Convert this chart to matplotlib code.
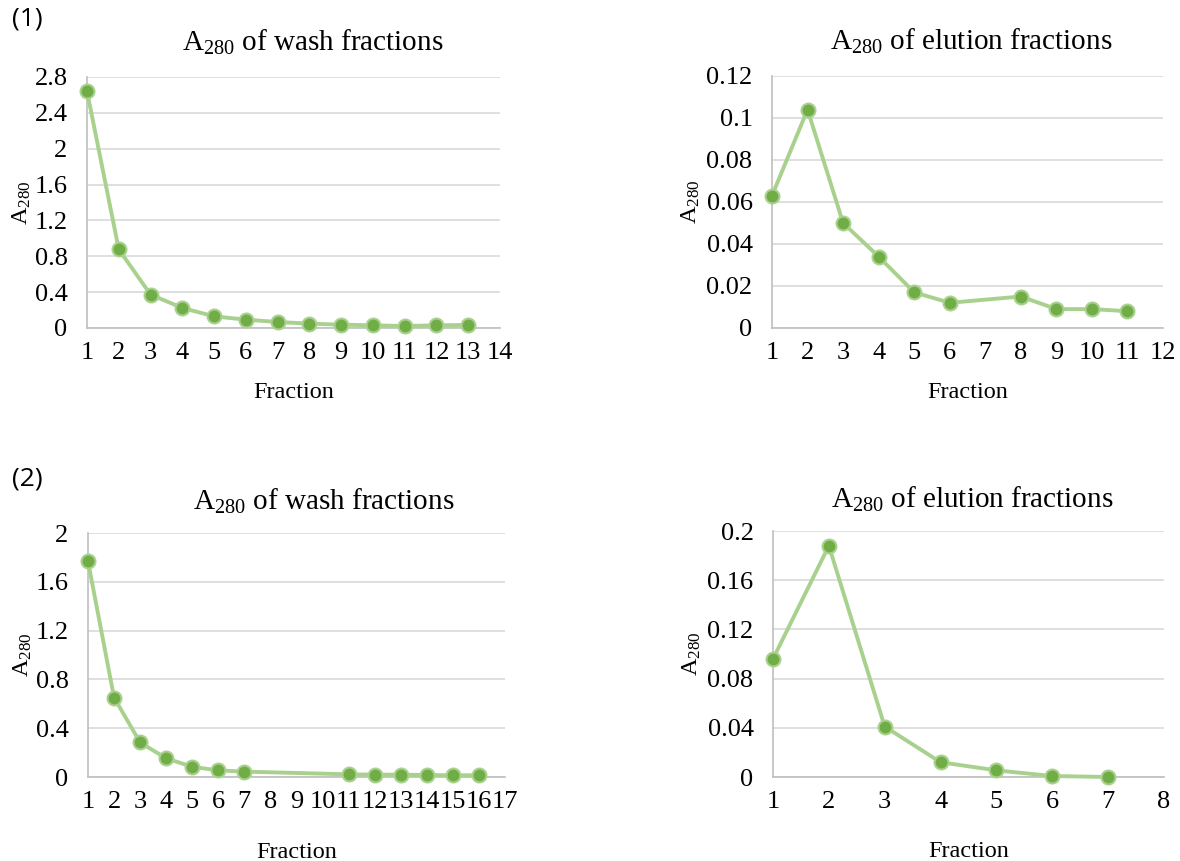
import matplotlib
matplotlib.use("Agg")
import matplotlib.pyplot as plt

plt.rcParams['font.family'] = ['Liberation Serif']
plt.rcParams['mathtext.fontset'] = 'custom'
plt.rcParams['mathtext.rm'] = 'Liberation Serif'
plt.rcParams['mathtext.it'] = 'Liberation Serif:italic'

# Data
wash1_x = [1, 2, 3, 4, 5, 6, 7, 8, 9, 10, 11, 12, 13]
wash1_y = [2.64, 0.877, 0.373, 0.224, 0.13, 0.093, 0.067, 0.049, 0.037, 0.03, 0.022, 0.03, 0.034]
elu1_x = [1, 2, 3, 4, 5, 6, 8, 9, 10, 11]
elu1_y = [0.063, 0.104, 0.050, 0.034, 0.017, 0.012, 0.015, 0.009, 0.009, 0.008]
wash2_x = [1, 2, 3, 4, 5, 6, 7, 11, 12, 13, 14, 15, 16]
wash2_y = [1.768, 0.651, 0.283, 0.153, 0.084, 0.054, 0.044, 0.022, 0.019, 0.019, 0.016, 0.014, 0.014]
elu2_x = [1, 2, 3, 4, 5, 6, 7]
elu2_y = [0.096, 0.188, 0.041, 0.012, 0.0054, 0.0008, 0.0]

yticks1 = [0, 0.4, 0.8, 1.2, 1.6, 2, 2.4, 2.8]
ytl1 = ['0', '0.4', '0.8', '1.2', '1.6', '2', '2.4', '2.8']
yticks2 = [0, 0.02, 0.04, 0.06, 0.08, 0.1, 0.12]
ytl2 = ['0', '0.02', '0.04', '0.06', '0.08', '0.1', '0.12']
yticks3 = [0, 0.4, 0.8, 1.2, 1.6, 2]
ytl3 = ['0', '0.4', '0.8', '1.2', '1.6', '2']
yticks4 = [0, 0.04, 0.08, 0.12, 0.16, 0.2]
ytl4 = ['0', '0.04', '0.08', '0.12', '0.16', '0.2']

W, H = 1180, 861
fig = plt.figure(figsize=(W / 100, H / 100), dpi=100)

LINE = '#A9D18E'
MARK = '#70AD47'
GRID = '#D9D9D9'
AXC = '#BFBFBF'


def make_ax(px_left, px_right, px_top, px_bottom):
    return fig.add_axes([px_left / W, 1 - px_bottom / H,
                         (px_right - px_left) / W, (px_bottom - px_top) / H])


def panel(ax, x, y, xmax, yt, ytl, title, tpad, tx, xlpad, ylpad):
    ax.plot(x, y, color=LINE, lw=2.8, marker='o', ms=10,
            markerfacecolor=MARK, markeredgecolor=LINE, markeredgewidth=1.5,
            zorder=3, clip_on=False)
    ax.set_xlim(1, xmax)
    ax.set_ylim(yt[0], yt[-1])
    ax.set_xticks(range(1, xmax + 1))
    ax.set_yticks(yt)
    ax.set_yticklabels(ytl)
    ax.tick_params(length=0, labelsize=19, colors='black')
    ax.tick_params(axis='x', pad=10)
    ax.tick_params(axis='y', pad=14)
    ax.grid(axis='y', color=GRID, lw=1.2)
    ax.set_axisbelow(True)
    for s in ['top', 'right']:
        ax.spines[s].set_visible(False)
    ax.spines['left'].set_color(AXC)
    ax.spines['bottom'].set_color(AXC)
    ax.spines['left'].set_linewidth(1.2)
    ax.spines['bottom'].set_linewidth(1.2)
    ax.set_xlabel('Fraction', fontsize=17.5, labelpad=xlpad)
    ax.set_ylabel(r'A$_{280}$', fontsize=17.5, labelpad=ylpad)
    ax.set_title(r'A$_{280}$ of wash fractions' if title == 'wash' else r'A$_{280}$ of elution fractions',
                 fontsize=21, pad=tpad, x=tx)


ax1 = make_ax(87, 500, 77, 328)
panel(ax1, wash1_x, wash1_y, 14, yticks1, ytl1, 'wash', 19, 0.547, 13, 1)
ax2 = make_ax(772, 1163, 76, 328)
panel(ax2, elu1_x, elu1_y, 12, yticks2, ytl2, 'elution', 19, 0.51, 13, 3)
ax3 = make_ax(88, 505, 533, 777)
panel(ax3, wash2_x, wash2_y, 17, yticks3, ytl3, 'wash', 17, 0.565, 21, 1)
ax4 = make_ax(773, 1164, 531, 777)
panel(ax4, elu2_x, elu2_y, 8, yticks4, ytl4, 'elution', 17, 0.51, 20, 3)

fig.text(12 / W, 1 - 19 / H, '(1)', fontsize=19, family=['Open Sans', 'DejaVu Sans'], va='center', ha='left')
fig.text(12 / W, 1 - 479 / H, '(2)', fontsize=19, family=['Open Sans', 'DejaVu Sans'], va='center', ha='left')

fig.savefig('out.png', dpi=100, facecolor='white')
